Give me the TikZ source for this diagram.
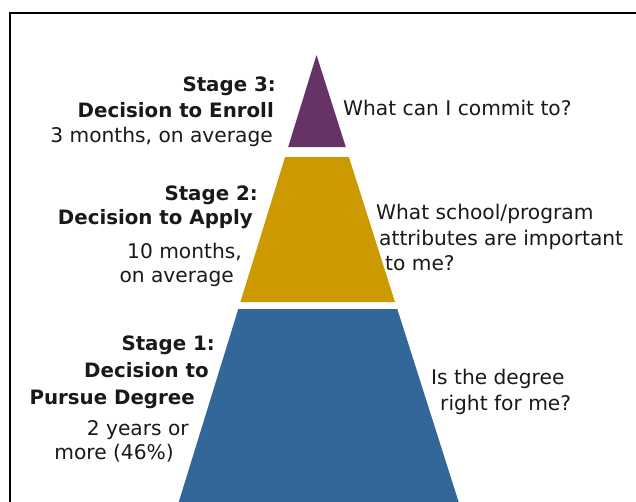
\documentclass[tikz,border=0pt]{standalone}
\usepackage{fontspec}
\setmainfont{DejaVu Sans}
\usepackage{tikz}

\definecolor{stagepurple}{RGB}{102,51,102}
\definecolor{stagegold}{RGB}{204,153,0}
\definecolor{stageblue}{RGB}{51,102,153}
\definecolor{txt}{RGB}{25,25,25}

\tikzset{
	title/.style={inner sep=0pt, text=txt, font=\fontsize{19.8}{23}\selectfont\bfseries},
	note/.style={inner sep=0pt, text=txt, font=\fontsize{20.2}{24}\selectfont},
	left/.style={anchor=base east},
	right/.style={anchor=base west}
}

\begin{document}
\begin{tikzpicture}[x=1pt, y=-1pt]
		\clip (0,0) rectangle (636,501);
		\fill[white] (0,0) rectangle (636,501);
		% frame, runs off at right and bottom
		\draw[line width=2pt] (9.5,520) -- (9.5,12.5) -- (660,12.5);

		% pyramid bands
		\coordinate (top) at (316.5,55);
		\fill[stagepurple] (top) -- (345.8,147) -- (288.2,147) -- cycle;
		\fill[stagegold] (285.1,157) -- (348.9,157) -- (395.0,302) -- (240.4,302) -- cycle;
		\fill[stageblue] (238.3,309) -- (397.3,309) -- (461.2,510) -- (176.3,510) -- cycle;

		% stage 3
		\node[title, left] (s3a) at (276,91) {Stage 3:};
		\node[title, left] (s3b) at (274,117) {Decision to Enroll};
		\node[note, left] (s3c) at (273,142) {3 months, on average};
		\node[note, right] (q3) at (343,115) {What can I commit to?};

		% stage 2
		\node[title, left] (s2a) at (258,200) {Stage 2:};
		\node[title, left] (s2b) at (253,224) {Decision to Apply};
		\node[note, left] (s2c) at (242,258) {10 months,};
		\node[note, left] (s2d) at (234,282) {on average};
		\node[note, right] (q2a) at (376,219) {What school/program};
		\node[note, right] (q2b) at (379,245) {attributes are important};
		\node[note, right] (q2c) at (385,270) {to me?};

		% stage 1
		\node[title, left] (s1a) at (215,350) {Stage 1:};
		\node[title, left] (s1b) at (209,377) {Decision to};
		\node[title, left] (s1c) at (195,404) {Pursue Degree};
		\node[note, left] (s1d) at (189,435) {2 years or};
		\node[note, left] (s1e) at (174,459) {more (46\%)};
		\node[note, right] (q1a) at (431,384) {Is the degree};
		\node[note, right] (q1b) at (440,410) {right for me?};
		\end{tikzpicture}
\end{document}
